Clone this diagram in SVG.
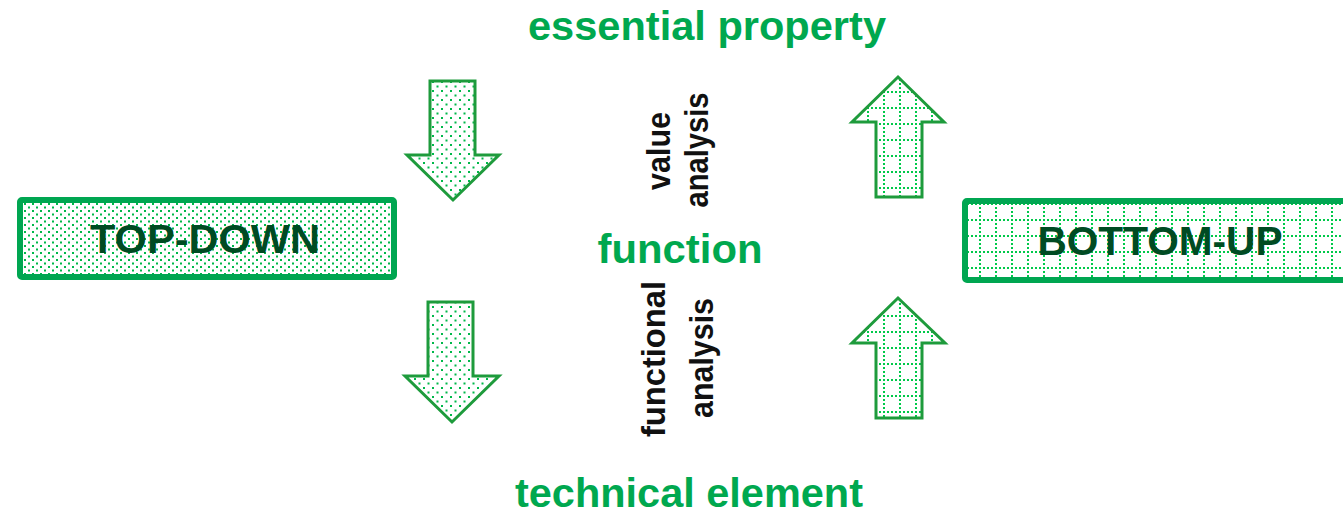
<svg xmlns="http://www.w3.org/2000/svg" width="1343" height="515" viewBox="0 0 1343 515">
<style>
.head{font-family:"Liberation Sans",Arial,sans-serif;font-weight:bold;fill:#00a84f;font-size:41px;text-anchor:middle}
.box{font-family:"Liberation Sans",Arial,sans-serif;font-weight:bold;fill:#004b23;font-size:41px;text-anchor:middle}
.rot{font-family:"Liberation Sans",Arial,sans-serif;font-weight:bold;fill:#111;font-size:33px;text-anchor:middle}
.boxr{stroke:#00a651;stroke-width:6}
.arr{stroke:#1e9b3c;stroke-width:3;stroke-linejoin:miter}
</style>
<defs>
<pattern id="dotsBox" patternUnits="userSpaceOnUse" width="8" height="7">
<rect width="8" height="7" fill="#fff"/>
<rect x="0" y="0" width="2" height="2" fill="#00b84a"/>
<rect x="4" y="3.5" width="2" height="2" fill="#00b84a"/>
</pattern>
<pattern id="dotsArr" patternUnits="userSpaceOnUse" width="9" height="9">
<rect width="9" height="9" fill="#fff"/>
<rect x="0" y="0" width="2" height="2" fill="#00b84a"/>
<rect x="4.5" y="4.5" width="2" height="2" fill="#00b84a"/>
</pattern>
<pattern id="grid" patternUnits="userSpaceOnUse" x="3" y="11" width="16" height="16">
<rect width="16" height="16" fill="#fff"/>
<path d="M0 1H16M1 0V16" stroke="#00c94a" stroke-width="2" stroke-dasharray="2 2" fill="none"/>
</pattern>
</defs>
<g id="connectors">
<polygon id="arrow-down-top" class="arr" fill="url(#dotsArr)" points="430,81 475,81 475,155 499,155 453,200 407,155 430,155"/>
<polygon id="arrow-down-bottom" class="arr" fill="url(#dotsArr)" points="428,302 473,302 473,376 499,376 452,422 405,376 428,376"/>
<polygon id="arrow-up-top" class="arr" fill="url(#grid)" points="898,77 944,122 922,122 922,197 876,197 876,122 852,122"/>
<polygon id="arrow-up-bottom" class="arr" fill="url(#grid)" points="898,298 945,343 922,343 922,418 876,418 876,343 852,343"/>
</g>
<g id="top-down">
<rect class="boxr" x="20" y="200" width="374" height="77" rx="2" fill="url(#dotsBox)"/>
<text class="box" x="205" y="253" textLength="230" lengthAdjust="spacingAndGlyphs">TOP-DOWN</text>
</g>
<g id="bottom-up">
<rect class="boxr" x="965" y="201" width="400" height="79" rx="2" fill="url(#grid)"/>
<text class="box" x="1160" y="255" textLength="245" lengthAdjust="spacingAndGlyphs">BOTTOM-UP</text>
</g>
<g id="essential-property">
<text class="head" x="707" y="40" textLength="358" lengthAdjust="spacingAndGlyphs">essential property</text>
</g>
<g id="function">
<text class="head" x="680" y="263" textLength="165" lengthAdjust="spacingAndGlyphs">function</text>
</g>
<g id="technical-element">
<text class="head" x="689" y="507" textLength="348" lengthAdjust="spacingAndGlyphs">technical element</text>
</g>
<g id="value-analysis">
<text class="rot" transform="translate(670,151) rotate(-90)" textLength="78" lengthAdjust="spacingAndGlyphs">value</text>
<text class="rot" transform="translate(708,150) rotate(-90)" textLength="115" lengthAdjust="spacingAndGlyphs">analysis</text>
</g>
<g id="functional-analysis">
<text class="rot" transform="translate(665,359) rotate(-90)" textLength="156" lengthAdjust="spacingAndGlyphs">functional</text>
<text class="rot" transform="translate(713,358) rotate(-90)" textLength="120" lengthAdjust="spacingAndGlyphs">analysis</text>
</g>
</svg>
